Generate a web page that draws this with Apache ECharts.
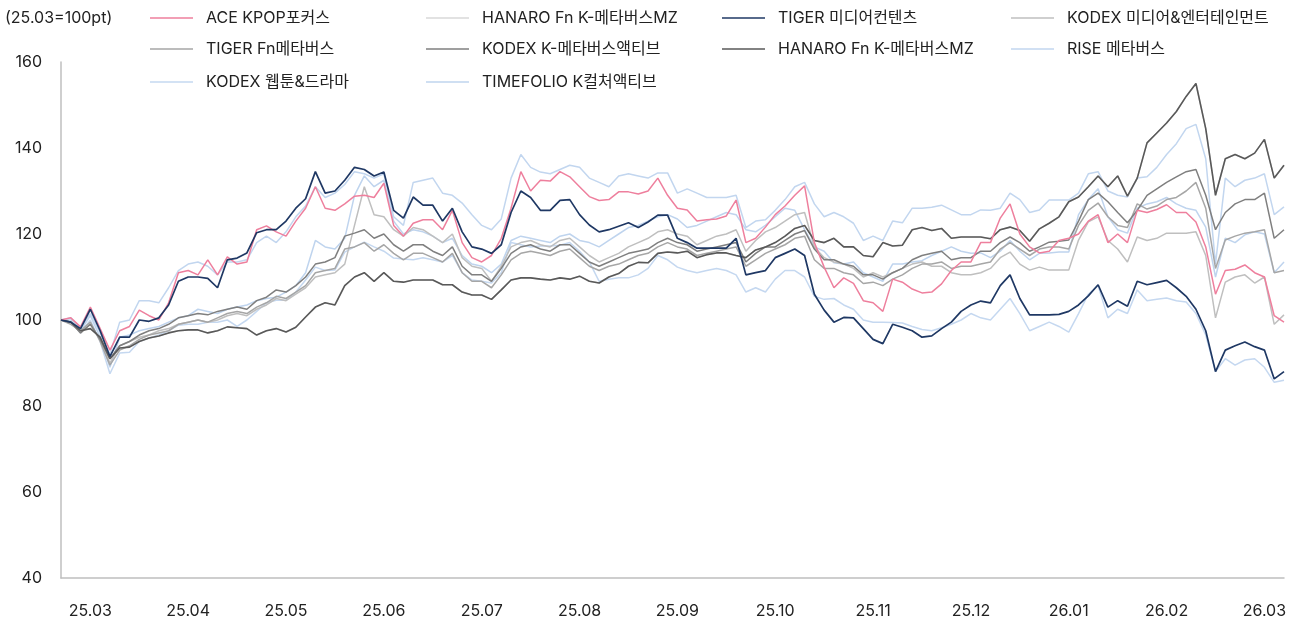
<!DOCTYPE html>
<html>
<head>
<meta charset="utf-8">
<script src="https://cdn.jsdelivr.net/npm/echarts@6/dist/echarts.min.js"></script>
<style>
  html, body { margin: 0; padding: 0; background: #fff; }
  #main { width: 1300px; height: 623px; }
</style>
</head>
<body>
<div id="main"></div>
<script>
// month labels shown on the x axis (first one sits on point 3, then every 10 points)
const tickLabels = ['25.03', '25.04', '25.05', '25.06', '25.07', '25.08', '25.09', '25.10', '25.11', '25.12', '26.01', '26.02', '26.03'];

// index values, 25.03 = 100pt (126 points each)
const aceKpop = [
  100, 100.5, 98.4, 103, 98, 93, 97.5, 98.5, 102.3, 101,
  100, 104, 111, 111.5, 110.5, 114, 110.5, 114.7, 113, 113.5,
  121, 121.9, 120.5, 119.5, 123, 126, 131, 126, 125.5, 127,
  128.8, 129, 128.5, 131.8, 122, 119.5, 122.5, 123.3, 123.3, 121,
  125.5, 118, 114.5, 113.5, 115, 119, 126, 134.5, 130, 132.5,
  132.3, 134.5, 133.3, 131, 128.7, 127.8, 128, 129.8, 129.8, 129.3,
  130, 133, 129, 126, 125.6, 123, 123.3, 123.5, 124.2, 127.9,
  118, 119, 121.6, 124.5, 126.5, 129, 131.2, 118, 112.3, 107.5,
  109.8, 108.5, 104.5, 104, 102, 109.5, 108.8, 107.2, 106.3, 106.5,
  108.4, 111.5, 113.5, 113.5, 118, 118, 123.7, 127, 120, 117,
  115.6, 116, 118.5, 119, 120, 123, 124.5, 118, 120, 118,
  125.5, 125, 125.7, 126.8, 125, 125, 122.8, 117, 106, 111.5,
  111.8, 112.8, 111, 110, 101, 99.5
];
const hanaroMz = [
  100, 99.5, 97.5, 98, 96, 91, 93.5, 93.7, 95, 95.8,
  96.3, 97, 97.5, 97.7, 97.7, 97, 97.5, 98.4, 98.2, 98,
  96.5, 97.5, 98, 97.2, 98.3, 100.7, 103, 104, 103.5, 108,
  110, 111, 109, 111, 109, 108.8, 109.3, 109.3, 109.3, 108.2,
  108.2, 106.5, 105.8, 105.8, 104.8, 107, 109.3, 109.8, 109.8, 109.5,
  109.3, 109.8, 109.5, 110.2, 109, 108.6, 110, 110.8, 112.5, 113.4,
  113.3, 115.5, 115.8, 115.6, 116, 114.5, 115.2, 115.6, 115.6, 115,
  114.5, 116.3, 117, 118, 119.5, 121.3, 122, 118.5, 118, 119,
  117, 117, 115, 114.7, 118, 117.2, 117.4, 121, 121.5, 120.8,
  121.3, 119, 119.3, 119.3, 119.3, 118.9, 121, 121.6, 120.8, 118.3,
  121.2, 122.5, 124, 127.5, 128.6, 131, 133.5, 131, 133.5, 128.8,
  133, 141.2, 143.5, 145.8, 148.5, 152, 155, 144.5, 129, 137.5,
  138.5, 137.5, 138.8, 142, 133, 136
];
const tigerMedia = [
  100, 99.5, 98, 102.5, 97.5, 91.5, 96, 96, 100, 99.7,
  100.5, 103.5, 109, 110, 110, 109.7, 107.5, 114, 114.4, 115.6,
  120.3, 121, 121, 123, 126, 128.2, 134.5, 129.5, 130, 132.5,
  135.5, 135, 133.5, 134.4, 125.5, 123.7, 128.6, 126.7, 126.7, 123,
  126, 120.5, 117, 116.5, 115.5, 117.5, 125, 130, 128.5, 125.5,
  125.5, 127.8, 128, 124.5, 122.1, 120.5, 121, 121.8, 122.6, 121.5,
  122.8, 124.4, 124.4, 119, 118, 116.7, 116.7, 116.7, 116.7, 119,
  110.5, 111, 111.5, 114.5, 115.5, 116.5, 115, 106, 102.3, 99.5,
  100.6, 100.5, 98, 95.5, 94.5, 99, 98.3, 97.5, 96, 96.3,
  98, 99.5, 102, 103.5, 104.4, 104, 108, 110.5, 105, 101.2,
  101.2, 101.2, 101.3, 102, 103.5, 105.6, 108.2, 103, 104.5, 103.2,
  109, 108.2, 108.7, 109.2, 107.5, 105.5, 102.5, 97.5, 88, 93,
  94, 94.9, 93.8, 93, 86.3, 88
];
const kodexMediaEnt = [
  100, 99.5, 97, 99, 95.5, 90, 94, 95, 96, 96.5,
  97.5, 98, 99, 99.5, 100, 99.5, 100, 101, 101.5, 101,
  102.5, 103.5, 105, 104.5, 106, 107.5, 110, 110.5, 111, 113,
  122, 131, 124.5, 124, 121, 119.5, 121.5, 121, 119.5, 118,
  120, 114.5, 112.5, 112, 109, 112.5, 117, 118, 118.5, 117.5,
  117, 118.5, 119, 117, 115, 113.5, 114.5, 115.5, 117, 118,
  119, 120.5, 121, 120, 119.5, 117.5, 118.5, 119.5, 120, 121,
  116, 118.5, 120.5, 121.5, 123, 124.5, 125, 117, 114.5, 113.5,
  113, 112, 110, 111, 110, 111, 112, 113, 113.5, 112.5,
  112.5, 111, 110.5, 110.5, 111, 112, 114.5, 115.8, 113, 111.6,
  112.3, 111.6, 111.6, 111.6, 118.6, 122.8, 124, 118.5, 116.5, 113.5,
  119.3, 118.5, 119, 120.2, 120.2, 120.2, 120.5, 115, 100.5, 108.8,
  110, 110.5, 108.6, 110, 99, 101.2
];
const tigerFnMeta = [
  100, 99, 97.5, 99.5, 95, 89.5, 93, 94, 95.5, 96.5,
  97, 97.5, 99, 99.5, 100, 99.5, 100.5, 101.5, 102, 101.5,
  103, 104, 105.5, 105, 106.5, 108, 111, 111.5, 112, 116.5,
  117, 118, 116, 117.5, 115.5, 114, 115.5, 115.5, 114.5, 113.5,
  115.5, 111, 109, 109, 107.5, 110.5, 114, 115.5, 116, 115.5,
  115, 116, 116.5, 114.5, 112.5, 111.5, 112.5, 113, 114, 115,
  115.5, 117, 118, 117, 116.5, 115, 115.5, 116, 116.5, 117,
  112.5, 114, 115.5, 116.5, 117.5, 119, 119.5, 114, 112, 112,
  111, 110.5, 108.5, 108.8, 108, 109.5, 110.5, 112, 113, 113,
  113.5, 112, 112.5, 112.5, 113, 113.5, 116.5, 118, 116.5, 115,
  116.5, 117, 117, 116.5, 122, 125.5, 127.2, 124, 122, 121.5,
  127, 125.8, 126.5, 128, 128.5, 130, 132, 126, 112, 118.6,
  119.5, 120.2, 120.5, 121, 111, 111.5
];
const kodexMetaActive = [
  100, 99.5, 97, 99, 95.5, 91, 94, 95, 96.5, 97.5,
  98, 99, 100.5, 101, 101.5, 101.2, 102, 102.5, 103, 102.5,
  104.5, 105.3, 107, 106.5, 108, 110, 113, 113.5, 114.5, 119.5,
  120.2, 121, 119, 120, 117.5, 116, 117.5, 117.5, 116, 115,
  117, 112.5, 110.5, 110.5, 109, 112, 115.5, 117, 117.5, 116.5,
  116, 117.5, 117.5, 115.5, 113.5, 112.5, 113.5, 114.5, 115.5, 116,
  116.5, 118, 119, 118, 117.5, 116, 116.5, 117, 117.5, 118,
  113.5, 115.5, 117, 117, 118.5, 120, 120.8, 116.5, 114, 114,
  113, 112.5, 110.5, 110.5, 109.5, 111, 112, 114, 115, 115.5,
  116, 114, 114.5, 114.5, 116, 116, 118, 119.3, 118, 116,
  117, 118.1, 118.3, 118.6, 123, 128, 129.5, 127.5, 125, 122.6,
  125.5, 129, 130.5, 132, 133.3, 134.5, 135, 129, 121, 125,
  127, 128, 128, 129.5, 119, 121
];
const riseMeta = [
  100, 100.5, 98, 101.5, 97, 92, 99.5, 100, 104.5, 104.5,
  104, 107.5, 111.5, 113, 113.5, 112.5, 110.5, 113.5, 113.5, 114,
  118, 119.5, 118, 120.5, 124, 126.5, 131, 128.5, 129.5, 131.5,
  134.5, 134, 133, 134, 124, 122, 132, 132.5, 133, 129.5,
  129, 127.2, 124.5, 122, 121, 123.5, 133, 138.5, 135.5, 134.4,
  134, 135, 136, 135.5, 133, 132, 131, 133.5, 134, 133.5,
  133, 134.2, 134.2, 129.5, 130.5, 129.5, 128.5, 128.5, 128.5, 129,
  121.5, 123, 123.3, 125.5, 128, 131, 132, 127, 124, 125,
  124, 122.5, 118.5, 119.5, 118.5, 123, 122.6, 126, 126, 126.2,
  126.7, 125.6, 124.5, 124.5, 125.6, 125.5, 126, 129.5, 128, 125,
  125.6, 127.9, 127.9, 127.9, 129.5, 134, 134.5, 130, 129, 128.6,
  133, 133.3, 135.5, 138.5, 141, 144.5, 145.5, 137.5, 113, 133,
  131, 132.5, 133, 134, 124.5, 126.3
];
const kodexWebtoon = [
  100, 99.5, 97, 100, 95, 87.5, 92.3, 92.5, 95, 95.8,
  96.5, 97.5, 98.8, 99, 99, 99.5, 99.5, 100, 98.5, 100,
  102, 104, 104.6, 104.6, 106.5, 109.3, 112.3, 111.5, 111.6, 115.8,
  117, 118.1, 117, 116, 114.4, 114.2, 114, 114.5, 114, 113.5,
  115, 111, 109.3, 109, 108.6, 111, 118, 117.5, 117, 117.2,
  117.2, 117.4, 118, 116, 113.5, 109, 109.5, 109.8, 109.8, 110.5,
  112, 115, 114, 112.3, 111.5, 111, 111.5, 112, 111.5, 110.5,
  106.5, 107.5, 106.5, 109.5, 111.5, 111.5, 110, 105.5, 104.8, 105,
  103.5, 102.5, 100, 99.5, 99.5, 99.4, 99.3, 98.5, 97.8, 97.5,
  98.2, 99, 100, 101.5, 100.5, 100, 102.5, 105, 101.5, 97.5,
  98.5, 99.5, 98.5, 97.2, 101.5, 106, 108, 100.5, 102.5, 101.5,
  107, 104.5, 104.8, 105.1, 104.5, 104.2, 101.5, 96.5, 88, 91,
  89.5, 90.7, 91, 89, 85.5, 86
];
const timefolioCulture = [
  100, 100, 97.5, 101, 96, 89, 96, 96.5, 97.5, 98,
  98.5, 99.5, 100.5, 101, 102.5, 102, 101.5, 102.5, 103, 103.5,
  104.5, 105, 105.3, 106.5, 108, 111, 118.5, 117, 116.5, 119,
  129, 133.5, 131, 132.5, 123, 120, 121, 120.5, 119.5, 118,
  119, 115, 113, 112.5, 111, 113, 118.5, 119.5, 119, 118.5,
  118, 119.5, 120, 118.5, 118, 117, 118.5, 120, 121.5, 122,
  123, 124, 124.5, 123.5, 121.5, 122, 123, 124, 125, 124.5,
  121, 120.5, 122, 124, 126, 125.5, 121, 117, 116, 113.3,
  113, 113.5, 111, 110, 109, 113, 113, 113.5, 113.8, 115,
  116, 117, 116, 115.5, 115.6, 114.5, 116, 118.5, 116, 114,
  115.5, 115.6, 115.8, 115.8, 124.5, 128, 130.5, 124, 121, 120.2,
  126, 127, 127.5, 128.5, 127, 126, 125.5, 121.6, 110, 119,
  118, 119.8, 120.5, 120, 111, 113.5
];

// x categories are just the point index, labels come from tickLabels
const xCats = [];
for (let i = 0; i < aceKpop.length; i++) {
    xCats.push(String(i));
}

// the two HANARO entries share one name, the light one gets a trailing space so the legend keeps both
const HANARO_LIGHT = 'HANARO Fn K-메타버스MZ ';
const HANARO_DARK = 'HANARO Fn K-메타버스MZ';

const FONT = 'Inter, "Noto Sans CJK KR", sans-serif';

// [name, data, color, width], listed in drawing order (last one on top)
const seriesList = [
    ['KODEX 웹툰&드라마', kodexWebtoon, '#c5d8f0', 1.5],
    ['TIMEFOLIO K컬처액티브', timefolioCulture, '#bfd4ee', 1.5],
    ['RISE 메타버스', riseMeta, '#c2d6ef', 1.5],
    [HANARO_LIGHT, hanaroMz, '#d9d9d9', 1.5],
    ['KODEX 미디어&엔터테인먼트', kodexMediaEnt, '#bfbfbf', 1.5],
    ['TIGER Fn메타버스', tigerFnMeta, '#a6a6a6', 1.5],
    ['KODEX K-메타버스액티브', kodexMetaActive, '#7f7f7f', 1.5],
    [HANARO_DARK, hanaroMz, '#595959', 1.6],
    ['ACE KPOP포커스', aceKpop, '#ee7f9d', 1.5],
    ['TIGER 미디어컨텐츠', tigerMedia, '#1f3864', 1.7]
];

// legend placement as in the picture: [name, left, top]
const legendSpots = [
    ['ACE KPOP포커스', 150, 10],
    [HANARO_LIGHT, 426, 10],
    ['TIGER 미디어컨텐츠', 722, 10],
    ['KODEX 미디어&엔터테인먼트', 1011, 10],
    ['TIGER Fn메타버스', 150, 41],
    ['KODEX K-메타버스액티브', 426, 41],
    [HANARO_DARK, 722, 41],
    ['RISE 메타버스', 1011, 41],
    ['KODEX 웹툰&드라마', 150, 74],
    ['TIMEFOLIO K컬처액티브', 426, 74]
];

let legends = [];
for (let i in legendSpots) {
    legends.push({
        data: [legendSpots[i][0]],
        left: legendSpots[i][1],
        top: legendSpots[i][2],
        padding: 0,
        icon: 'rect',
        itemWidth: 43,
        itemHeight: 1.5,
        selectedMode: false,
        formatter: function (name) { return name.trim(); },
        textStyle: { fontFamily: FONT, fontSize: 16, color: '#222', padding: [0, 0, 0, 8] }
    });
}

let series = [];
for (let i in seriesList) {
    series.push({
        name: seriesList[i][0],
        type: 'line',
        data: seriesList[i][1],
        symbol: 'none',
        showSymbol: false,
        color: seriesList[i][2],
        lineStyle: { width: seriesList[i][3], color: seriesList[i][2] },
        emphasis: { disabled: true }
    });
}

let option = {
    animation: false,
    backgroundColor: '#fff',
    graphic: [{
        type: 'text',
        left: 5,
        top: 10,
        style: { text: '(25.03=100pt)', font: '16px ' + FONT, fill: '#222' }
    }],
    legend: legends,
    grid: { left: 61, right: 16, top: 62, bottom: 45 },
    xAxis: {
        type: 'category',
        data: xCats,
        boundaryGap: false,
        axisLine: { lineStyle: { color: '#bfbfbf', width: 1.5 } },
        axisTick: { show: false },
        splitLine: { show: false },
        axisLabel: {
            margin: 25,
            fontFamily: FONT,
            fontSize: 16,
            color: '#222',
            interval: function (idx) { return idx >= 3 && (idx - 3) % 10 === 0; },
            formatter: function (v, idx) { return tickLabels[(idx - 3) / 10] || ''; }
        }
    },
    yAxis: {
        type: 'value',
        min: 40,
        max: 160,
        interval: 20,
        axisLine: { show: true, lineStyle: { color: '#bfbfbf', width: 1.5 } },
        axisTick: { show: false },
        splitLine: { show: false },
        axisLabel: { margin: 19, fontFamily: FONT, fontSize: 16, color: '#222' }
    },
    series: series
};

let chart = echarts.init(document.getElementById('main'));
chart.setOption(option);
</script>
</body>
</html>
